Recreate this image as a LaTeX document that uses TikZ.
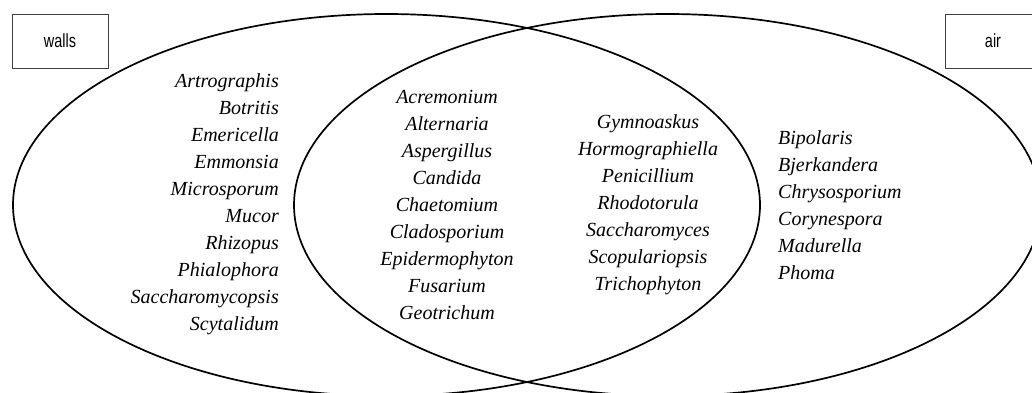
\documentclass[tikz,border=0pt]{standalone}
\usepackage{fontspec}
\setmainfont{Liberation Serif}
\newfontfamily\narrowsans[FakeStretch=0.76]{Liberation Sans}
\tikzset{
  venn/.style={line width=1.7pt, draw=black},
  labelbox/.style={draw=black!75, line width=0.9pt, minimum width=96pt, minimum height=54pt,
    inner sep=0pt, font=\narrowsans\fontsize{19}{22}\selectfont},
  species/.style={inner sep=0pt, font=\fontsize{20}{27}\selectfont\itshape}
}
\begin{document}
\begin{tikzpicture}[x=1pt,y=-1pt]
\useasboundingbox (0,0) rectangle (1032,392);
\clip (0,0) rectangle (1032,392);
\fill[white] (0,0) rectangle (1032,392);
\draw[venn] (386.5,205) ellipse [x radius=373.5, y radius=191];
\draw[venn] (667.5,205) ellipse [x radius=373.5, y radius=191];
\node[labelbox] (walls) at (60,41) {walls};
\node[labelbox] (air) at (993,41) {air};
\node[species, align=right, anchor=east] (wallsonly) at (279,204.5)
  {Artrographis\\Botritis\\Emericella\\Emmonsia\\Microsporum\\Mucor\\Rhizopus\\Phialophora\\Saccharomycopsis\\Scytalidum};
\node[species, align=center] (bothA) at (447,205)
  {Acremonium\\Alternaria\\Aspergillus\\Candida\\Chaetomium\\Cladosporium\\Epidermophyton\\Fusarium\\Geotrichum};
\node[species, align=center] (bothB) at (648,204.5)
  {Gymnoaskus\\Hormographiella\\Penicillium\\Rhodotorula\\Saccharomyces\\Scopulariopsis\\Trichophyton};
\node[species, align=left, anchor=west] (aironly) at (778,205.5)
  {Bipolaris\\Bjerkandera\\Chrysosporium\\Corynespora\\Madurella\\Phoma};
\end{tikzpicture}
\end{document}
